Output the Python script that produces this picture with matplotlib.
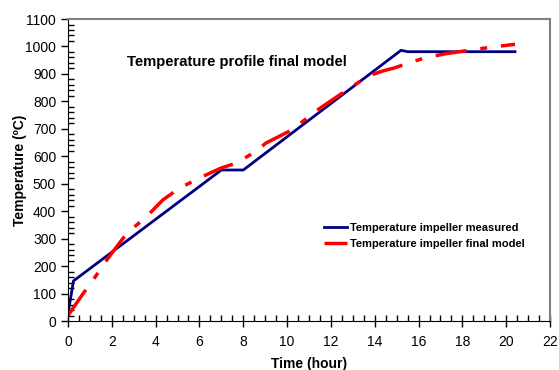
import numpy as np
import matplotlib.pyplot as plt
from matplotlib.ticker import MultipleLocator

plt.rcParams['font.family'] = ['Liberation Sans', 'DejaVu Sans']

# measured impeller temperature (time in hours, temp in degC)
t_meas = [0, 0.25, 7, 8, 15.2, 15.5, 20.4]
T_meas = [25, 146, 550, 550, 986, 981, 981]

# final model
t_model = [0, 0.7, 1.15, 1.83, 2.52, 3.05, 3.58, 4.33, 5.09, 6.0, 6.98, 7.67, 8.58,
           9.03, 10.24, 11.3, 12.2, 13.1, 13.7, 14.33, 14.9, 15.55, 16.3, 17.2, 18.7, 20.4]
T_model = [20, 101, 150, 229, 302, 344, 380, 441, 484, 521, 557, 575, 618,
           648, 697, 764, 813, 861, 892, 910, 922, 940, 959, 973, 991, 1008]

fig = plt.figure(figsize=(5.59, 3.70), dpi=100)
ax = fig.add_axes([0.1216, 0.1324, 0.8624, 0.8162])

ax.plot(t_meas, T_meas, color='#000080', lw=2, label='Temperature impeller measured')
ax.plot(t_model, T_model, color='#ff0000', lw=2.5, dashes=[9, 4, 2, 4],
        label='Temperature impeller final model')

ax.set_xlim(0, 22)
ax.set_ylim(0, 1100)
ax.xaxis.set_major_locator(MultipleLocator(2))
ax.xaxis.set_minor_locator(MultipleLocator(0.5))
ax.yaxis.set_major_locator(MultipleLocator(100))
ax.yaxis.set_minor_locator(MultipleLocator(20))
ax.tick_params(axis='x', which='major', direction='inout', length=8, width=1, labelsize=10, pad=6)
ax.tick_params(axis='x', which='minor', direction='in', length=4, width=1)
ax.tick_params(axis='y', which='major', direction='out', length=5, width=1, labelsize=10)
ax.tick_params(axis='y', which='minor', direction='in', length=4, width=1)

for s in ['top', 'right']:
    ax.spines[s].set_color('#808080')
    ax.spines[s].set_linewidth(1.5)
for s in ['left', 'bottom']:
    ax.spines[s].set_color('black')

ax.set_xlabel('Time (hour)', fontsize=10, fontweight='bold', labelpad=6)
ax.set_ylabel('Temperature (ºC)', fontsize=10, fontweight='bold', labelpad=-1)

ax.text(2.7, 943, 'Temperature profile final model', fontsize=10.7,
        fontweight='bold', va='center', ha='left')

leg = ax.legend(loc='center left', bbox_to_anchor=(0.51, 0.282), frameon=False,
                prop={'size': 8, 'weight': 'bold'}, handlelength=2.1,
                handletextpad=0.25, labelspacing=0.6)

fig.savefig('out.png', dpi=100)
